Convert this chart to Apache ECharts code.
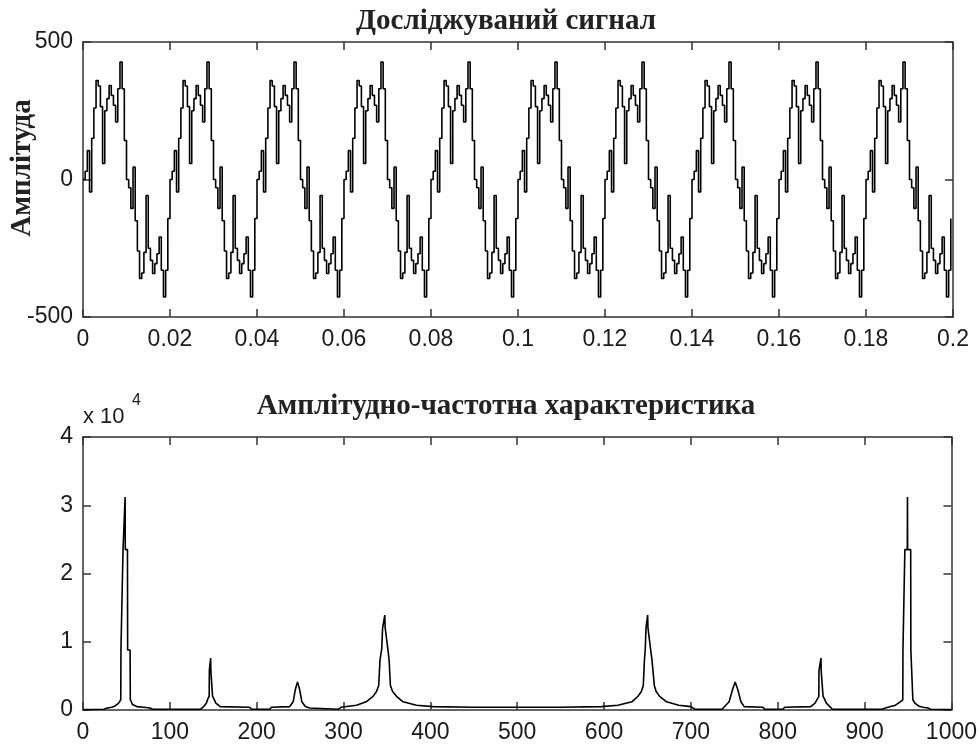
<!doctype html>
<html><head><meta charset="utf-8">
<style>
  html,body{margin:0;padding:0;background:#ffffff}
  #chart{width:980px;height:746px}
</style>
</head><body><div id="chart"></div>
<script src="https://cdn.jsdelivr.net/npm/echarts@6/dist/echarts.min.js"></script>
<script>
// sampled signal, 0.0005 s per sample, 10 identical periods of 0.02 s
const sampleStep = 0.0005;
const signal = [
  0, 30, 105, -45, 150, 260, 360, 340, 265, 58, 250, 294, 342, 306, 270, 209, 330, 427, 330, 142, 0, -30, -105, 45, -150, -260, -360, -340, -265, -58, -250, -294, -342, -306, -270, -209, -330, -427, -330, -142,
  0, 30, 105, -45, 150, 260, 360, 340, 265, 58, 250, 294, 342, 306, 270, 209, 330, 427, 330, 142, 0, -30, -105, 45, -150, -260, -360, -340, -265, -58, -250, -294, -342, -306, -270, -209, -330, -427, -330, -142,
  0, 30, 105, -45, 150, 260, 360, 340, 265, 58, 250, 294, 342, 306, 270, 209, 330, 427, 330, 142, 0, -30, -105, 45, -150, -260, -360, -340, -265, -58, -250, -294, -342, -306, -270, -209, -330, -427, -330, -142,
  0, 30, 105, -45, 150, 260, 360, 340, 265, 58, 250, 294, 342, 306, 270, 209, 330, 427, 330, 142, 0, -30, -105, 45, -150, -260, -360, -340, -265, -58, -250, -294, -342, -306, -270, -209, -330, -427, -330, -142,
  0, 30, 105, -45, 150, 260, 360, 340, 265, 58, 250, 294, 342, 306, 270, 209, 330, 427, 330, 142, 0, -30, -105, 45, -150, -260, -360, -340, -265, -58, -250, -294, -342, -306, -270, -209, -330, -427, -330, -142,
  0, 30, 105, -45, 150, 260, 360, 340, 265, 58, 250, 294, 342, 306, 270, 209, 330, 427, 330, 142, 0, -30, -105, 45, -150, -260, -360, -340, -265, -58, -250, -294, -342, -306, -270, -209, -330, -427, -330, -142,
  0, 30, 105, -45, 150, 260, 360, 340, 265, 58, 250, 294, 342, 306, 270, 209, 330, 427, 330, 142, 0, -30, -105, 45, -150, -260, -360, -340, -265, -58, -250, -294, -342, -306, -270, -209, -330, -427, -330, -142,
  0, 30, 105, -45, 150, 260, 360, 340, 265, 58, 250, 294, 342, 306, 270, 209, 330, 427, 330, 142, 0, -30, -105, 45, -150, -260, -360, -340, -265, -58, -250, -294, -342, -306, -270, -209, -330, -427, -330, -142,
  0, 30, 105, -45, 150, 260, 360, 340, 265, 58, 250, 294, 342, 306, 270, 209, 330, 427, 330, 142, 0, -30, -105, 45, -150, -260, -360, -340, -265, -58, -250, -294, -342, -306, -270, -209, -330, -427, -330, -142,
  0, 30, 105, -45, 150, 260, 360, 340, 265, 58, 250, 294, 342, 306, 270, 209, 330, 427, 330, 142, 0, -30, -105, 45, -150, -260, -360, -340, -265, -58, -250, -294, -342, -306, -270, -209, -330, -427, -330, -142
];

// amplitude spectrum, [frequency Hz, magnitude in units of 10^4]
const spectrum = [
  [0, 0.005], [24, 0.01], [28, 0.03], [33, 0.04], [37, 0.06], [41, 0.1], [43.5, 0.15],
  [43.7, 0.88], [45.9, 0.88], [46.1, 2.35], [48.3, 2.35], [48.5, 3.12], [48.7, 2.35], [51.2, 2.35],
  [51.4, 0.88], [54.2, 0.88], [54.5, 0.15], [57, 0.08], [62, 0.05], [70, 0.04], [77, 0.03], [80, 0.01],
  [135, 0.01], [139, 0.05], [142, 0.1], [144, 0.17], [145.3, 0.2], [145.5, 0.58], [146.8, 0.58],
  [147, 0.76], [147.2, 0.58], [149, 0.58], [149.2, 0.2], [150.5, 0.17], [153, 0.1], [158, 0.05],
  [192, 0.04], [194, 0.01], [215, 0.01], [217, 0.04], [238, 0.05], [242, 0.12], [244.5, 0.3],
  [247, 0.41], [249.5, 0.3], [252, 0.12], [256, 0.05], [261, 0.03], [263, 0.01],
  [294, 0.01], [297, 0.04], [315, 0.07], [326, 0.12], [334, 0.2], [338, 0.27], [340.5, 0.36],
  [342, 0.73], [344, 0.9], [345, 1.2], [347, 1.2], [347.5, 1.39], [348, 1.2], [350, 1.2], [351, 0.9],
  [352.5, 0.73], [354, 0.36], [356.5, 0.27], [361, 0.2], [368.6, 0.12], [384, 0.07], [403, 0.05],
  [450, 0.04], [500, 0.04], [550, 0.04],
  [597, 0.05], [616, 0.07], [632, 0.12], [639, 0.2], [643, 0.27], [645.2, 0.36], [646.5, 0.73],
  [647.5, 0.9], [648.3, 1.2], [650, 1.2], [650.2, 1.39], [650.6, 1.2], [652.1, 1.2], [653.5, 0.9],
  [655.2, 0.73], [657.9, 0.36], [660, 0.27], [664, 0.2], [672, 0.12], [686, 0.07], [700, 0.05], [705, 0.01],
  [736, 0.01], [738, 0.04], [744, 0.12], [748, 0.3], [751, 0.41], [754, 0.3], [757.6, 0.12],
  [761.4, 0.05], [783, 0.04], [785, 0.01],
  [806, 0.01], [808, 0.04], [838, 0.05], [843, 0.1], [846, 0.17], [847.3, 0.2], [847.5, 0.58],
  [849.6, 0.58], [849.8, 0.76], [850, 0.58], [852, 0.58], [852.2, 0.2], [853.5, 0.17], [856, 0.1],
  [860, 0.05], [863, 0.01],
  [920, 0.01], [924, 0.03], [930, 0.05], [935.6, 0.07], [941, 0.12], [944, 0.15], [944.2, 0.88],
  [946.2, 0.88], [946.4, 2.35], [949.2, 2.35], [949.4, 3.12], [949.6, 2.35], [953.1, 2.35],
  [953.3, 0.88], [955.4, 0.88], [955.6, 0.15], [958, 0.1], [962, 0.06], [967, 0.04], [973, 0.03],
  [976, 0.01], [1000, 0.005]
];

const titleTop = 'Досліджуваний сигнал';
const titleBottom = 'Амплітудно-частотна характеристика';
const yNameTop = 'Амплітуда';
const multiplier = ['x 10', '4'];

const chart = echarts.init(document.getElementById('chart'), null, { renderer: 'canvas' });

const tickFont = { color: '#1a1a1a', fontSize: 23, fontFamily: "'Liberation Sans', Arial, sans-serif" };
const serifBold = { fontSize: 29, fontWeight: 'bold', fontFamily: "'Liberation Serif', 'Times New Roman', serif", fill: '#222' };
const frameLine = { show: true, onZero: false, lineStyle: { color: '#333', width: 1.5 } };
const tick = { show: true, inside: true, length: 8, lineStyle: { color: '#333', width: 1.5 } };

function axisPair(kind, gridIndex, min, max, interval, formatter, margin) {
  const main = kind === 'x' ? 'bottom' : 'left';
  const other = kind === 'x' ? 'top' : 'right';
  const base = { type: 'value', gridIndex, min, max, interval, axisLine: frameLine, axisTick: tick, splitLine: { show: false } };
  return [
    Object.assign({}, base, { position: main, axisLabel: Object.assign({ margin, formatter, showMinLabel: true, showMaxLabel: true, hideOverlap: false }, tickFont) }),
    Object.assign({}, base, { position: other, axisLabel: { show: false } })
  ];
}

const timeFmt = v => String(Math.round(v * 100) / 100);
const plainFmt = v => String(v);

const option = {
  backgroundColor: '#ffffff',
  animation: false,
  grid: [
    { left: 83, top: 42, width: 870, height: 275 },
    { left: 83, top: 437, width: 870, height: 273 }
  ],
  xAxis: [].concat(
    axisPair('x', 0, 0, 0.2, 0.02, timeFmt, 11),
    axisPair('x', 1, 0, 1000, 100, plainFmt, 11)
  ),
  yAxis: [].concat(
    axisPair('y', 0, -500, 500, 500, plainFmt, 10),
    axisPair('y', 1, 0, 4, 1, plainFmt, 10)
  ),
  series: [
    {
      type: 'line', xAxisIndex: 0, yAxisIndex: 0, step: 'end', showSymbol: false,
      data: signal.map((v, i) => [i * sampleStep, v]),
      lineStyle: { color: '#000', width: 1.6 }
    },
    {
      type: 'line', xAxisIndex: 2, yAxisIndex: 2, showSymbol: false,
      data: spectrum,
      lineStyle: { color: '#000', width: 1.6 }
    }
  ],
  graphic: [
    { type: 'text', x: 506, y: 22, style: Object.assign({ text: titleTop, align: 'center', verticalAlign: 'middle' }, serifBold) },
    { type: 'text', x: 506, y: 407, style: Object.assign({ text: titleBottom, align: 'center', verticalAlign: 'middle' }, serifBold) },
    { type: 'text', x: 23, y: 168, rotation: Math.PI / 2, style: Object.assign({ text: yNameTop, align: 'center', verticalAlign: 'middle' }, serifBold) },
    { type: 'text', x: 83, y: 417, style: { text: multiplier[0], align: 'left', verticalAlign: 'middle', fontSize: 22, fontFamily: "'Liberation Sans', Arial, sans-serif", fill: '#1a1a1a' } },
    { type: 'text', x: 132, y: 401, style: { text: multiplier[1], align: 'left', verticalAlign: 'middle', fontSize: 16, fontFamily: "'Liberation Sans', Arial, sans-serif", fill: '#1a1a1a' } }
  ]
};

chart.setOption(option);
</script></body></html>
